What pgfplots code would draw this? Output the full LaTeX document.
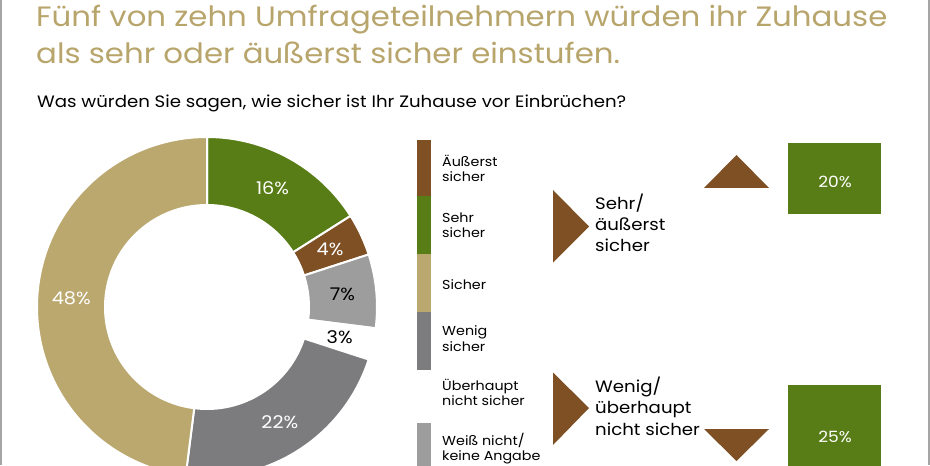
\documentclass[border=0pt]{standalone}
\usepackage{pgfplots}
\usepackage{pgfplotstable}
\pgfplotsset{compat=1.18}
\usepackage{fontspec}
\setmainfont{Poppins}[FakeStretch=1.1]
\definecolor{cgreen}{RGB}{88,125,22}
\definecolor{cbrown}{RGB}{126,80,36}
\definecolor{ctan}{RGB}{187,168,111}
\definecolor{cdgray}{RGB}{124,124,126}
\definecolor{clgray}{RGB}{157,157,157}
\definecolor{ctitle}{RGB}{183,165,108}
\definecolor{cborder}{RGB}{165,165,165}

\pgfplotstableread{
name value col lab
Sehr 16 cgreen white
Aeusserst 4 cbrown white
WeissNicht 7 clgray black
Ueberhaupt 3 white black
Wenig 22 cdgray white
Sicher 48 ctan white
}\donut

\newcommand\titlefont{\fontsize{28bp}{34bp}\selectfont}
\newcommand\subfont{\fontsize{16.5bp}{20bp}\selectfont}
\newcommand\donutfont{\fontsize{17.5bp}{20bp}\selectfont}
\newcommand\legfont{\fontsize{13bp}{16bp}\selectfont}
\newcommand\bigfont{\fontsize{16.5bp}{22bp}\selectfont}
\newcommand\boxfont{\fontsize{15.5bp}{19bp}\selectfont}

\begin{document}
\begin{tikzpicture}
\begin{axis}[scale only axis, width=930bp, height=465bp,
  xmin=0, xmax=930, ymin=0, ymax=465, hide axis, clip=true]
% invisible anchor plot
\addplot[draw=none] coordinates {(0,0) (930,465)};
% donut
\def\cum{0}
\pgfplotsforeachungrouped \i in {0,...,5}{%
  \pgfplotstablegetelem{\i}{value}\of\donut \let\v\pgfplotsretval
  \pgfplotstablegetelem{\i}{col}\of\donut \let\c\pgfplotsretval
  \pgfplotstablegetelem{\i}{lab}\of\donut \let\lc\pgfplotsretval
  \pgfmathsetmacro\a{90-3.6*\cum}
  \pgfmathsetmacro\b{90-3.6*(\cum+\v)}
  \pgfmathsetmacro\m{90-3.6*(\cum+\v/2)}
  \pgfmathsetmacro\cum{\cum+\v}
  \edef\temp{\noexpand\fill[\c, draw=white, line width=2bp]
    (axis cs:{207+102*cos(\a)},{158+102*sin(\a)})
    arc[start angle=\a, end angle=\b, radius=102bp]
    -- (axis cs:{207+170*cos(\b)},{158+170*sin(\b)})
    arc[start angle=\b, end angle=\a, radius=170bp] -- cycle;
    \noexpand\node[text=\lc, font=\noexpand\donutfont, inner sep=0pt]
    at (axis cs:{207+136*cos(\m)},{158+136*sin(\m)}) {\v\noexpand\%};}
  \temp
}
% titles
\node[anchor=base west, inner sep=0pt, text=ctitle, font=\titlefont] at (axis cs:36,438) {Fünf von zehn Umfrageteilnehmern würden ihr Zuhause};
\node[anchor=base west, inner sep=0pt, text=ctitle, font=\titlefont] at (axis cs:36,401) {als sehr oder äußerst sicher einstufen.};
\node[anchor=base west, inner sep=0pt, text=black, font=\subfont] at (axis cs:37,357) {Was würden Sie sagen, wie sicher ist Ihr Zuhause vor Einbrüchen?};
% legend stripe
\fill[cbrown] (axis cs:417,325.4) rectangle (axis cs:431,269);
\fill[cgreen] (axis cs:417,269) rectangle (axis cs:431,211);
\fill[ctan] (axis cs:417,211) rectangle (axis cs:431,153);
\fill[cdgray] (axis cs:417,153) rectangle (axis cs:431,95.5);
\fill[clgray] (axis cs:417,42) rectangle (axis cs:431,-2);
% legend labels
\begin{scope}[every node/.style={anchor=base west, inner sep=0pt, font=\legfont}]
\node at (axis cs:442,298) {Äußerst};
\node at (axis cs:442,283) {sicher};
\node at (axis cs:442,242) {Sehr};
\node at (axis cs:442,227) {sicher};
\node at (axis cs:442,176) {Sicher};
\node at (axis cs:442,129.5) {Wenig};
\node at (axis cs:442,114) {sicher};
\node at (axis cs:442,75) {Überhaupt};
\node at (axis cs:442,60) {nicht sicher};
\node at (axis cs:442,20) {Weiß nicht/};
\node at (axis cs:442,4.5) {keine Angabe};
\end{scope}
% arrows
\fill[cbrown] (axis cs:553,275) -- (axis cs:553,202.3) -- (axis cs:589,238.5) -- cycle;
\fill[cbrown] (axis cs:553,92.5) -- (axis cs:553,20) -- (axis cs:589,57) -- cycle;
\fill[cbrown] (axis cs:704,277) -- (axis cs:769,277) -- (axis cs:736.5,310) -- cycle;
\fill[cbrown] (axis cs:704,36) -- (axis cs:769,36) -- (axis cs:736.5,4) -- cycle;
\begin{scope}[every node/.style={anchor=base west, inner sep=0pt, font=\bigfont}]
\node at (axis cs:595,255) {Sehr/};
\node at (axis cs:595,234) {äußerst};
\node at (axis cs:595,213) {sicher};
\node at (axis cs:595,73) {Wenig/};
\node at (axis cs:595,51.5) {überhaupt};
\node at (axis cs:595,30) {nicht sicher};
\end{scope}
% boxes
\fill[cgreen] (axis cs:788,251) rectangle (axis cs:881,322);
\fill[cgreen] (axis cs:788,-5) rectangle (axis cs:881,80);
\node[text=white, font=\boxfont, inner sep=0pt] at (axis cs:835,283) {20\%};
\node[text=white, font=\boxfont, inner sep=0pt] at (axis cs:835,28) {25\%};
% border
\draw[cborder, line width=1.5bp] (axis cs:1,0) -- (axis cs:1,465);
\draw[cborder, line width=1.5bp] (axis cs:929,0) -- (axis cs:929,465);
\end{axis}
\pgfresetboundingbox
\path[use as bounding box] (current axis.south west) rectangle (current axis.north east);
\end{tikzpicture}
\end{document}
